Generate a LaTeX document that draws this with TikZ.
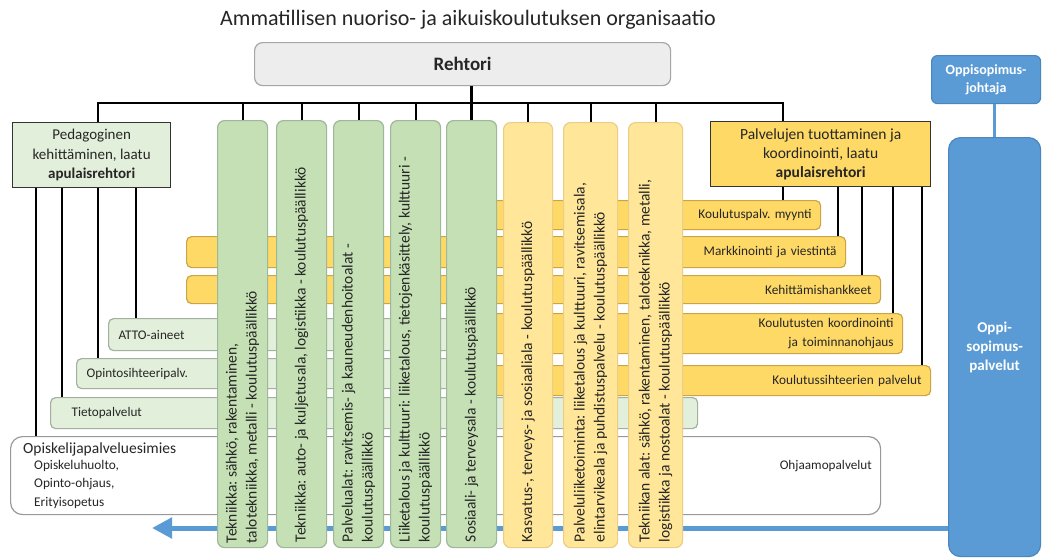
\documentclass[tikz,border=0pt]{standalone}
\usepackage{fontspec}
\setmainfont{Carlito}
\usetikzlibrary{arrows.meta}
\frenchspacing
\definecolor{gcol}{HTML}{C5E0B4}
\definecolor{gcolb}{HTML}{9DB89A}
\definecolor{gbar}{HTML}{E2EFDA}
\definecolor{gbarb}{HTML}{A3AFA0}
\definecolor{ycol}{HTML}{FFE699}
\definecolor{ycolb}{HTML}{EBCD85}
\definecolor{ybar}{HTML}{FFD966}
\definecolor{ybarb}{HTML}{C9A548}
\definecolor{bl}{HTML}{5B9BD5}
\definecolor{blb}{HTML}{4A86C0}
\definecolor{rgrey}{HTML}{EDEDED}
\definecolor{txt}{HTML}{262626}
\newcommand\myfs[2]{\fontsize{#1}{#2}\selectfont}
\tikzset{
  colg/.style={draw=gcolb, fill=gcol, line width=1.2pt, rounded corners=7pt, anchor=north west, inner sep=0pt, minimum height=427pt},
  coly/.style={draw=ycolb, fill=ycol, line width=1.2pt, rounded corners=7pt, anchor=north west, inner sep=0pt, minimum height=425pt},
  coltext/.style={rotate=90, anchor=west, align=left, inner sep=0pt, text=txt, font=\myfs{15.5}{20}},
  ybarst/.style={draw=ybarb, fill=ybar, line width=1.2pt, rounded corners=5pt, anchor=north west, inner ysep=0pt, inner xsep=9pt, align=right, text=txt, font=\myfs{13.3}{19}},
  gbarst/.style={draw=gbarb, fill=gbar, line width=1.2pt, rounded corners=5pt, anchor=north west, inner ysep=0pt, align=left, text=txt, font=\myfs{13.2}{19}},
  conn/.style={draw=black, line width=2pt},
  bluebox/.style={draw=blb, fill=bl, line width=1.2pt, text=white, font=\bfseries, align=center, inner sep=0pt, anchor=north west},
}
\begin{document}
\begin{tikzpicture}[x=1pt,y=-1pt]
\useasboundingbox (0,0) rectangle (1043,557);
\fill[white] (0,0) rectangle (1043,557);
% title
\node[text=txt, font=\myfs{22}{24}, inner sep=0pt] (title) at (468,20) {Ammatillisen nuoriso- ja aikuiskoulutuksen organisaatio};
% blue box and arrow (behind)
\node[bluebox, rounded corners=12pt, minimum width=92pt, minimum height=419pt, font=\bfseries\myfs{15}{19}] (bigblue) at (948,137) {Oppi-\\sopimus-\\palvelut};
\coordinate (arrtip) at (152,528);
\draw[draw=bl, line width=5pt, -{Triangle[length=20pt,width=20pt]}] (bigblue.west |- arrtip) -- (arrtip);
% white box
\node[draw=gray!80, fill=white, line width=1.2pt, rounded corners=12pt, anchor=north west, minimum width=870pt, minimum height=78pt, inner sep=0pt] (opis) at (10,436) {};
\node[anchor=west, inner sep=0pt, text=txt, font=\myfs{15.5}{19}] (opist) at (23,449) {Opiskelijapalveluesimies};
\node[anchor=north west, inner sep=0pt, align=left, text=txt, font=\myfs{13.3}{18.5}] (opisub) at (34,460) {Opiskeluhuolto,\\Opinto-ohjaus,\\Erityisopetus};
\node[anchor=east, inner sep=0pt, text=txt, font=\myfs{13.2}{19}] (ohj) at (872,466) {Ohjaamopalvelut};
% green bars
\node[gbarst, inner xsep=10pt, text width=352pt, minimum height=32pt] (atto) at (108,318) {ATTO-aineet};
\node[gbarst, inner xsep=10pt, text width=384pt, minimum height=30pt] (opinto) at (76,358) {Opintosihteeripalv.};
\node[gbarst, inner xsep=21pt, text width=605pt, minimum height=31pt] (tieto) at (50,397) {Tietopalvelut};
% yellow bars
\node[ybarst, text width=322pt, minimum height=29pt] (kpm) at (480,200) {Koulutuspalv. myynti};
\node[ybarst, text width=641pt, minimum height=31pt] (mark) at (186,236) {Markkinointi ja viestintä};
\node[ybarst, text width=676pt, minimum height=28pt] (keh) at (186,275) {Kehittämishankkeet};
\node[ybarst, text width=404pt, minimum height=40pt] (koord) at (480,313) {Koulutusten koordinointi\\ja toiminnanohjaus};
\node[ybarst, text width=432pt, minimum height=30pt] (ksiht) at (480,365) {Koulutussihteerien palvelut};
% columns
\node[colg, minimum width=50pt] (c1) at (217,120) {};
\node[colg, minimum width=50pt] (c2) at (276,120) {};
\node[colg, minimum width=50pt] (c3) at (333,120) {};
\node[colg, minimum width=50pt] (c4) at (390,120) {};
\node[colg, minimum width=50pt] (c5) at (446,120) {};
\node[coly, minimum width=49pt] (c6) at (503,122) {};
\node[coly, minimum width=54pt] (c7) at (563,122) {};
\node[coly, minimum width=54pt] (c8) at (628,122) {};
\node[coltext] (t1) at ([yshift=5pt]c1.south) {Tekniikka: sähkö, rakentaminen,\\talotekniikka, metalli - koulutuspäällikkö};
\node[coltext] (t2) at ([yshift=6pt]c2.south) {Tekniikka: auto- ja kuljetusala, logistiikka - koulutuspäällikkö};
\node[coltext] (t3) at ([yshift=6pt]c3.south) {Palvelualat: ravitsemis- ja kauneudenhoitoalat -\\koulutuspäällikkö};
\node[coltext] (t4) at ([yshift=6pt]c4.south) {Liiketalous ja kulttuuri: liiketalous, tietojenkäsittely, kulttuuri -\\koulutuspäällikkö};
\node[coltext] (t5) at ([yshift=6pt]c5.south) {Sosiaali- ja terveysala - koulutuspäällikkö};
\node[coltext] (t6) at ([yshift=6pt]c6.south) {Kasvatus-, terveys- ja sosiaaliala - koulutuspäällikkö};
\node[coltext] (t7) at ([yshift=6pt]c7.south) {Palveluliiketoiminta: liiketalous ja kulttuuri, ravitsemisala,\\elintarvikeala ja puhdistuspalvelu - koulutuspäällikkö};
\node[coltext] (t8) at ([yshift=6pt]c8.south) {Tekniikan alat: sähkö, rakentaminen, taloteknikka, metalli,\\logistiikka ja nostoalat - koulutuspäällikkö};
% top boxes
\node[draw=gray!70, fill=rgrey, line width=1.2pt, rounded corners=8pt, anchor=north west, minimum width=416pt, minimum height=43pt, inner sep=0pt, text=txt, font=\bfseries\myfs{19}{22}] (rehtori) at (254,42) {Rehtori};
\node[draw=black!80, fill=gbar, line width=1.3pt, anchor=north west, minimum width=158pt, minimum height=65pt, inner sep=0pt, align=center, text=txt, font=\myfs{15}{19.5}] (ped) at (12,122) {Pedagoginen\\kehittäminen, laatu\\\textbf{apulaisrehtori}};
\node[draw=black!80, fill=ybar, line width=1.3pt, anchor=north west, minimum width=220pt, minimum height=65pt, inner sep=0pt, align=center, text=txt, font=\myfs{15.5}{19}] (pal) at (710,121) {Palvelujen tuottaminen ja\\koordinointi, laatu\\\textbf{apulaisrehtori}};
\node[bluebox, rounded corners=6pt, minimum width=109pt, minimum height=48pt, font=\bfseries\myfs{14}{18.5}] (johtaja) at (931,55) {Oppisopimus-\\johtaja};
\draw[draw=bl, line width=3pt] (bigblue.north |- johtaja.south) -- (bigblue.north);
% bus
\coordinate (busL) at (98,103);
\coordinate (busR) at (783,103);
\draw[conn, line width=2.5pt] (c5.north |- rehtori.south) -- (c5.north);
\draw[conn] (busL |- ped.north) -- (busL) -- (busR) -- (busR |- pal.north);
\foreach \c in {c1,c2,c3,c4,c6,c7,c8} \draw[conn] (\c.north |- busL) -- (\c.north);
% left drops
\coordinate (p1) at (36,0);
\coordinate (p2) at (62,0);
\coordinate (p3) at (98,0);
\coordinate (p4) at (136,0);
\draw[conn] (ped.south -| p1) -- (opis.north -| p1);
\draw[conn] (ped.south -| p2) -- (tieto.north -| p2);
\draw[conn] (ped.south -| p3) -- (opinto.north -| p3);
\draw[conn] (ped.south -| p4) -- (atto.north -| p4);
% right drops
\coordinate (q1) at (783,0);
\coordinate (q2) at (838,0);
\coordinate (q3) at (862,0);
\coordinate (q4) at (893,0);
\coordinate (q5) at (922,0);
\draw[conn] (pal.south -| q1) -- (kpm.north -| q1);
\draw[conn] (pal.south -| q2) -- (mark.north -| q2);
\draw[conn] (pal.south -| q3) -- (keh.north -| q3);
\draw[conn] (pal.south -| q4) -- (koord.north -| q4);
\draw[conn] (pal.south -| q5) -- (ksiht.north -| q5);
\end{tikzpicture}
\end{document}
